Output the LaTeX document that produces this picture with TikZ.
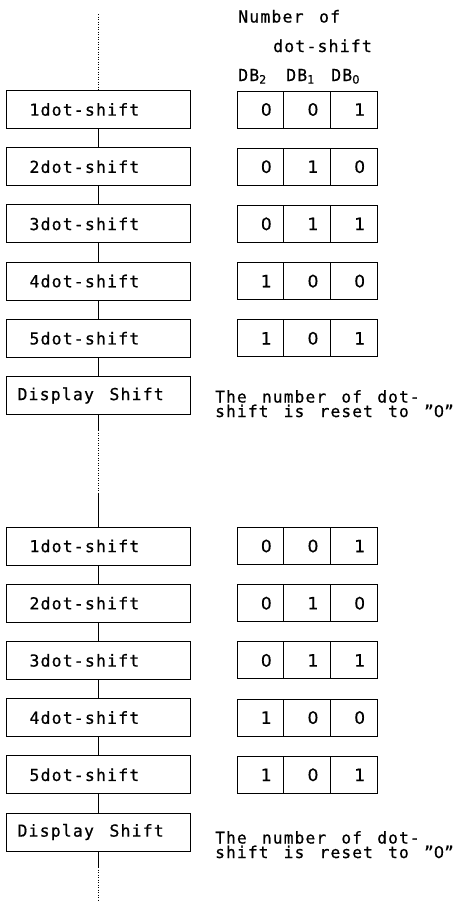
\documentclass[tikz,border=0pt]{standalone}
\usepackage{fontspec}
\setmainfont{DejaVu Sans Mono}
\newfontfamily\dotfont{DejaVu Sans Mono}[LetterSpace=7,FakeBold=0.6,WordSpace={1.4,0,0}]
\newfontfamily\cellfont{DejaVu Sans}[FakeBold=0.6]
\begin{document}
\begin{tikzpicture}
[x=1pt,y=-1pt,
  stepbox/.style={shape=rectangle,draw,line width=0.9pt,minimum height=38pt,
    inner xsep=11pt,text width=162pt,align=left,font=\dotfont\fontsize{16.5}{18}\selectfont},
  cellbox/.style={shape=rectangle,draw,line width=0.9pt,minimum height=37pt,
    inner xsep=12pt,text width=22.7pt,align=right,font=\cellfont\fontsize{17}{18}\selectfont},
  headdecorate/.style={anchor=base west,inner sep=0pt,font=\dotfont\fontsize{16.5}{18}\selectfont},
  notedecorate/.style={anchor=north west,inner sep=0pt,align=left,font=\dotfont\fontsize{16.2}{14.5}\selectfont},
  linedecorate/.style={-,line width=0.9pt},
  dotdecorate/.style={-,line width=0.9pt,dash pattern=on 1pt off 1.5pt}]
\useasboundingbox (0,0) rectangle (458,905);
%% header
\node (hnum) at (238,22.5) [headdecorate] {Number of};
\node (hdot) at (273,52) [headdecorate] {dot-shift};
\node (hdb2) at (238,81) [headdecorate] {DB\textsubscript{2}};
\node (hdb1) at (286,81) [headdecorate] {DB\textsubscript{1}};
\node (hdb0) at (331,81) [headdecorate] {DB\textsubscript{\cellfont 0}};
%% steps and bit cells
\foreach \sec/\yy/\ny in {a/109.5/390, b/546/831}
{
  \foreach \n/\bx/\by/\bz in {1/0/0/1, 2/0/1/0, 3/0/1/1, 4/1/0/0, 5/1/0/1}
  {
    \node (\sec\n) at (98.5,\yy+57.2*\n-57.2) [stepbox] {\hspace*{12pt}\n dot-shift};
    \node (\sec\n-2) at (260.35,\yy+57.2*\n-57.2) [cellbox] {\bx};
    \node (\sec\n-1) at (307.05,\yy+57.2*\n-57.2) [cellbox] {\by};
    \node (\sec\n-0) at (353.75,\yy+57.2*\n-57.2) [cellbox] {\bz};
  }
  \node (\sec D) at (98.5,\yy+286) [stepbox] {\spaceskip=0pt Display Shift};
  \node (\sec N) at (215,\ny) [notedecorate] {The number of dot-\\shift is reset to ”{\cellfont 0}”};
  %% edges between steps
  \path
  \foreach \startnode/\endnode in {1/2, 2/3, 3/4, 4/5, 5/D} {
    (\sec\startnode) edge[linedecorate] (\sec\endnode)
  };
}
%% flow line ends
\coordinate (atop) at (98.5,14);
\coordinate (gapA) at (98.5,430);
\coordinate (gapB) at (98.5,493);
\coordinate (bend1) at (98.5,867);
\coordinate (bend2) at (98.5,902);
\draw[dotdecorate] (atop) -- (a1);
\draw[linedecorate] (aD) -- (gapA);
\draw[dotdecorate] (gapA) -- (gapB);
\draw[linedecorate] (gapB) -- (b1);
\draw[linedecorate] (bD) -- (bend1);
\draw[dotdecorate] (bend1) -- (bend2);
\end{tikzpicture}
\end{document}
